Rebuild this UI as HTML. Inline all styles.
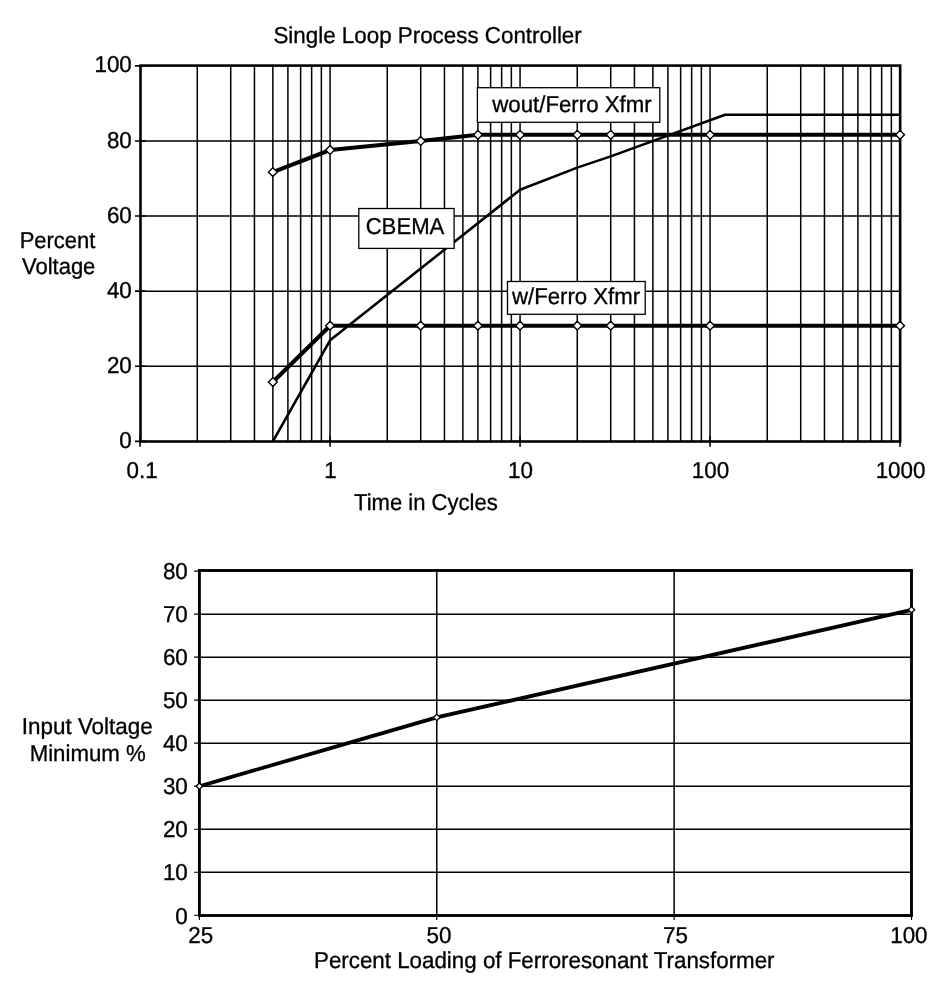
<!DOCTYPE html>
<html lang="en"><head><meta charset="utf-8"><title>Ferroresonant Transformer Charts</title>
<style>html,body{margin:0;padding:0;background:#fff}svg{display:block}text{font-family:"Liberation Sans",Arial,Helvetica,sans-serif;font-size:23px;fill:#000;stroke:#000;stroke-width:0.32px;text-rendering:geometricPrecision}</style></head><body>
<svg width="947" height="997" viewBox="0 0 947 997">
<rect width="947" height="997" fill="#fff"/>
<path d="M197.26 65.60V441.50M230.71 65.60V441.50M254.45 65.60V441.50M272.86 65.60V441.50M287.91 65.60V441.50M300.63 65.60V441.50M311.65 65.60V441.50M321.37 65.60V441.50M330.06 65.60V441.50M387.26 65.60V441.50M420.71 65.60V441.50M444.45 65.60V441.50M462.86 65.60V441.50M477.91 65.60V441.50M490.63 65.60V441.50M501.65 65.60V441.50M511.37 65.60V441.50M520.06 65.60V441.50M577.26 65.60V441.50M610.71 65.60V441.50M634.45 65.60V441.50M652.86 65.60V441.50M667.91 65.60V441.50M680.63 65.60V441.50M691.65 65.60V441.50M701.37 65.60V441.50M710.06 65.60V441.50M767.26 65.60V441.50M800.71 65.60V441.50M824.45 65.60V441.50M842.86 65.60V441.50M857.91 65.60V441.50M870.63 65.60V441.50M881.65 65.60V441.50M891.37 65.60V441.50M140.50 366.26H900.15M140.50 291.16H900.15M140.50 216.07H900.15M140.50 140.97H900.15" fill="none" stroke="#000" stroke-width="1.5"/>
<path d="M135.00 441.36H145.70M135.00 366.26H145.70M135.00 291.16H145.70M135.00 216.07H145.70M135.00 140.97H145.70M135.00 65.87H145.70M140.06 436.00V446.80M330.06 436.00V446.80M520.06 436.00V446.80M710.06 436.00V446.80M900.06 436.00V446.80" fill="none" stroke="#000" stroke-width="1.6"/>
<rect x="140.50" y="65.60" width="759.65" height="375.90" fill="none" stroke="#000" stroke-width="2.6"/>
<polyline points="272.86,441.36 330.06,340.35 520.06,189.78 577.26,167.63 610.71,156.36 725.10,114.68 900.06,114.68" fill="none" stroke="#000" stroke-width="2.6" stroke-linejoin="round"/>
<polyline points="272.86,172.13 330.06,149.98 420.71,140.97 477.91,134.77 520.06,134.77 577.26,134.77 610.71,134.77 710.06,134.77 900.06,134.77" fill="none" stroke="#000" stroke-width="4.1" stroke-linejoin="round"/>
<polyline points="272.86,382.03 330.06,325.71 420.71,325.71 477.91,325.71 520.06,325.71 577.26,325.71 610.71,325.71 710.06,325.71 900.06,325.71" fill="none" stroke="#000" stroke-width="4.1" stroke-linejoin="round"/>
<path d="M268.46 172.13L272.86 167.73L277.26 172.13L272.86 176.53ZM325.66 149.98L330.06 145.58L334.46 149.98L330.06 154.38ZM416.31 140.97L420.71 136.57L425.11 140.97L420.71 145.37ZM473.51 134.77L477.91 130.37L482.31 134.77L477.91 139.17ZM515.66 134.77L520.06 130.37L524.46 134.77L520.06 139.17ZM572.86 134.77L577.26 130.37L581.66 134.77L577.26 139.17ZM606.31 134.77L610.71 130.37L615.11 134.77L610.71 139.17ZM705.66 134.77L710.06 130.37L714.46 134.77L710.06 139.17ZM895.66 134.77L900.06 130.37L904.46 134.77L900.06 139.17Z" fill="#fff" stroke="#000" stroke-width="1.4"/>
<path d="M268.46 382.03L272.86 377.63L277.26 382.03L272.86 386.43ZM325.66 325.71L330.06 321.31L334.46 325.71L330.06 330.11ZM416.31 325.71L420.71 321.31L425.11 325.71L420.71 330.11ZM473.51 325.71L477.91 321.31L482.31 325.71L477.91 330.11ZM515.66 325.71L520.06 321.31L524.46 325.71L520.06 330.11ZM572.86 325.71L577.26 321.31L581.66 325.71L577.26 330.11ZM606.31 325.71L610.71 321.31L615.11 325.71L610.71 330.11ZM705.66 325.71L710.06 321.31L714.46 325.71L710.06 330.11ZM895.66 325.71L900.06 321.31L904.46 325.71L900.06 330.11Z" fill="#fff" stroke="#000" stroke-width="1.4"/>
<rect x="477.40" y="87.70" width="182.40" height="34.60" fill="#fff" stroke="#000" stroke-width="1.3"/>
<text x="492.27" y="112" textLength="159.40" lengthAdjust="spacingAndGlyphs">wout/Ferro Xfmr</text>
<rect x="358.80" y="208.50" width="95.30" height="39.90" fill="#fff" stroke="#000" stroke-width="1.3"/>
<text x="365.64" y="234" textLength="78.73" lengthAdjust="spacingAndGlyphs">CBEMA</text>
<rect x="507.50" y="281.50" width="137.70" height="32.80" fill="#fff" stroke="#000" stroke-width="1.3"/>
<text x="511.96" y="304" textLength="128.21" lengthAdjust="spacingAndGlyphs">w/Ferro Xfmr</text>
<text x="273.43" y="43" textLength="308.34" lengthAdjust="spacingAndGlyphs">Single Loop Process Controller</text>
<text x="19.64" y="248" textLength="75.77" lengthAdjust="spacingAndGlyphs">Percent</text>
<text x="22.00" y="274" textLength="73.36" lengthAdjust="spacingAndGlyphs">Voltage</text>
<text x="119.36" y="448" textLength="12.46" lengthAdjust="spacingAndGlyphs">0</text>
<text x="106.91" y="373" textLength="24.92" lengthAdjust="spacingAndGlyphs">20</text>
<text x="106.91" y="298" textLength="24.92" lengthAdjust="spacingAndGlyphs">40</text>
<text x="106.91" y="223" textLength="24.92" lengthAdjust="spacingAndGlyphs">60</text>
<text x="106.91" y="148" textLength="24.92" lengthAdjust="spacingAndGlyphs">80</text>
<text x="94.45" y="72" textLength="37.37" lengthAdjust="spacingAndGlyphs">100</text>
<text x="126.48" y="478" textLength="31.14" lengthAdjust="spacingAndGlyphs">0.1</text>
<text x="324.33" y="478" textLength="12.46" lengthAdjust="spacingAndGlyphs">1</text>
<text x="508.10" y="478" textLength="24.92" lengthAdjust="spacingAndGlyphs">10</text>
<text x="691.87" y="478" textLength="37.37" lengthAdjust="spacingAndGlyphs">100</text>
<text x="875.64" y="478" textLength="49.83" lengthAdjust="spacingAndGlyphs">1000</text>
<text x="354.00" y="510" textLength="143.78" lengthAdjust="spacingAndGlyphs">Time in Cycles</text>
<path d="M199.40 872.25H911.50M199.40 829.24H911.50M199.40 786.22H911.50M199.40 743.20H911.50M199.40 700.18H911.50M199.40 657.17H911.50M199.40 614.15H911.50M436.77 570.50V915.50M674.13 570.50V915.50" fill="none" stroke="#000" stroke-width="1.5"/>
<path d="M194.10 915.27H199.40M194.10 872.25H199.40M194.10 829.24H199.40M194.10 786.22H199.40M194.10 743.20H199.40M194.10 700.18H199.40M194.10 657.17H199.40M194.10 614.15H199.40M194.10 571.13H199.40M199.40 915.50V919.90M436.77 915.50V919.90M674.13 915.50V919.90M911.50 915.50V919.90" fill="none" stroke="#000" stroke-width="1.2"/>
<rect x="199.40" y="570.50" width="712.10" height="345.00" fill="none" stroke="#000" stroke-width="2.9"/>
<polyline points="199.40,786.22 436.77,717.39 911.50,609.85" fill="none" stroke="#000" stroke-width="3.8" stroke-linejoin="round"/>
<path d="M196.20 786.22L199.40 783.02L202.60 786.22L199.40 789.42ZM433.57 717.39L436.77 714.19L439.97 717.39L436.77 720.59ZM908.30 609.85L911.50 606.65L914.70 609.85L911.50 613.05Z" fill="#fff" stroke="#000" stroke-width="1.3"/>
<text x="175.35" y="924" textLength="12.46" lengthAdjust="spacingAndGlyphs">0</text>
<text x="162.90" y="880" textLength="24.92" lengthAdjust="spacingAndGlyphs">10</text>
<text x="162.90" y="837" textLength="24.92" lengthAdjust="spacingAndGlyphs">20</text>
<text x="162.90" y="794" textLength="24.92" lengthAdjust="spacingAndGlyphs">30</text>
<text x="162.90" y="751" textLength="24.92" lengthAdjust="spacingAndGlyphs">40</text>
<text x="162.90" y="708" textLength="24.92" lengthAdjust="spacingAndGlyphs">50</text>
<text x="162.90" y="665" textLength="24.92" lengthAdjust="spacingAndGlyphs">60</text>
<text x="162.90" y="622" textLength="24.92" lengthAdjust="spacingAndGlyphs">70</text>
<text x="162.90" y="579" textLength="24.92" lengthAdjust="spacingAndGlyphs">80</text>
<text x="188.34" y="943" textLength="24.92" lengthAdjust="spacingAndGlyphs">25</text>
<text x="426.53" y="943" textLength="24.92" lengthAdjust="spacingAndGlyphs">50</text>
<text x="663.04" y="943" textLength="24.92" lengthAdjust="spacingAndGlyphs">75</text>
<text x="890.21" y="943" textLength="37.37" lengthAdjust="spacingAndGlyphs">100</text>
<text x="21.75" y="734" textLength="131.02" lengthAdjust="spacingAndGlyphs">Input Voltage</text>
<text x="29.63" y="761" textLength="116.10" lengthAdjust="spacingAndGlyphs">Minimum %</text>
<text x="314.03" y="968" textLength="460.54" lengthAdjust="spacingAndGlyphs">Percent Loading of Ferroresonant Transformer</text>
</svg></body></html>
